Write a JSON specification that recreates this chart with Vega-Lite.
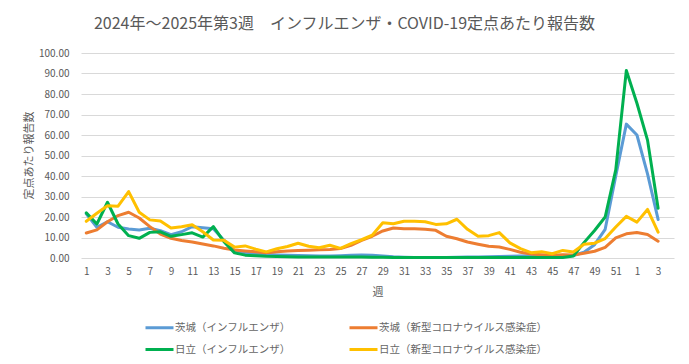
{
  "$schema": "https://vega.github.io/schema/vega-lite/v6.json",
  "width": 593,
  "height": 205,
  "autosize": {"type": "none"},
  "padding": {"left": 81, "top": 53, "right": 15, "bottom": 106},
  "background": "white",
  "title": {
    "text": "2024年～2025年第3週　インフルエンザ・COVID-19定点あたり報告数",
    "font": "Noto Sans CJK JP",
    "fontSize": 16,
    "fontWeight": "normal",
    "color": "#595959",
    "anchor": "middle",
    "dx": -33,
    "offset": 16
  },
  "config": {
    "view": {"stroke": null},
    "font": "Noto Sans CJK JP"
  },
  "data": {
    "values": [
      {"n":1,"a":21.5,"b":12.2,"c":22.0,"d":17.9},
      {"n":2,"a":15.0,"b":13.7,"c":16.6,"d":21.8},
      {"n":3,"a":17.7,"b":17.7,"c":27.2,"d":25.5},
      {"n":4,"a":15.0,"b":20.7,"c":16.6,"d":25.3},
      {"n":5,"a":14.1,"b":22.3,"c":10.9,"d":32.4},
      {"n":6,"a":13.7,"b":19.5,"c":9.6,"d":22.3},
      {"n":7,"a":14.5,"b":15.3,"c":12.5,"d":18.6},
      {"n":8,"a":13.3,"b":11.7,"c":12.8,"d":18.0},
      {"n":9,"a":11.4,"b":9.6,"c":10.6,"d":14.6},
      {"n":10,"a":12.8,"b":8.5,"c":11.4,"d":15.2},
      {"n":11,"a":15.3,"b":7.8,"c":12.3,"d":16.2},
      {"n":12,"a":14.8,"b":6.8,"c":10.2,"d":12.8},
      {"n":13,"a":14.3,"b":5.9,"c":15.3,"d":8.8},
      {"n":14,"a":8.7,"b":4.8,"c":8.0,"d":8.6},
      {"n":15,"a":3.5,"b":3.9,"c":2.5,"d":5.3},
      {"n":16,"a":2.5,"b":3.4,"c":1.4,"d":5.9},
      {"n":17,"a":2.2,"b":3.0,"c":1.1,"d":4.3},
      {"n":18,"a":1.8,"b":2.6,"c":0.8,"d":3.0},
      {"n":19,"a":1.5,"b":3.0,"c":0.7,"d":4.5},
      {"n":20,"a":1.3,"b":3.4,"c":0.6,"d":5.6},
      {"n":21,"a":1.2,"b":3.7,"c":0.5,"d":7.2},
      {"n":22,"a":1.1,"b":3.8,"c":0.5,"d":5.7},
      {"n":23,"a":1.0,"b":4.0,"c":0.5,"d":5.0},
      {"n":24,"a":1.0,"b":4.2,"c":0.5,"d":6.2},
      {"n":25,"a":1.1,"b":4.6,"c":0.5,"d":4.7},
      {"n":26,"a":1.3,"b":6.2,"c":0.5,"d":7.0},
      {"n":27,"a":1.5,"b":8.6,"c":0.5,"d":8.9},
      {"n":28,"a":1.4,"b":10.6,"c":0.4,"d":11.1},
      {"n":29,"a":1.0,"b":13.2,"c":0.4,"d":17.2},
      {"n":30,"a":0.6,"b":14.6,"c":0.3,"d":16.7},
      {"n":31,"a":0.4,"b":14.3,"c":0.2,"d":17.9},
      {"n":32,"a":0.3,"b":14.3,"c":0.2,"d":17.9},
      {"n":33,"a":0.3,"b":14.0,"c":0.2,"d":17.7},
      {"n":34,"a":0.3,"b":13.5,"c":0.2,"d":16.4},
      {"n":35,"a":0.3,"b":10.6,"c":0.2,"d":16.7},
      {"n":36,"a":0.4,"b":9.4,"c":0.2,"d":18.9},
      {"n":37,"a":0.5,"b":7.8,"c":0.2,"d":14.0},
      {"n":38,"a":0.5,"b":6.7,"c":0.2,"d":10.6},
      {"n":39,"a":0.6,"b":5.7,"c":0.2,"d":10.9},
      {"n":40,"a":0.7,"b":5.4,"c":0.2,"d":12.4},
      {"n":41,"a":0.9,"b":4.2,"c":0.2,"d":7.4},
      {"n":42,"a":1.0,"b":2.8,"c":0.2,"d":4.6},
      {"n":43,"a":1.1,"b":2.0,"c":0.2,"d":2.6},
      {"n":44,"a":1.1,"b":1.6,"c":0.2,"d":3.1},
      {"n":45,"a":1.0,"b":1.3,"c":0.2,"d":2.1},
      {"n":46,"a":0.9,"b":1.6,"c":0.2,"d":3.7},
      {"n":47,"a":1.2,"b":1.5,"c":1.0,"d":2.9},
      {"n":48,"a":2.8,"b":2.3,"c":7.5,"d":6.7},
      {"n":49,"a":6.5,"b":3.3,"c":13.4,"d":7.2},
      {"n":50,"a":14.0,"b":5.2,"c":20.0,"d":9.5},
      {"n":51,"a":40.0,"b":9.8,"c":43.0,"d":15.1},
      {"n":52,"a":65.3,"b":11.8,"c":91.5,"d":20.3},
      {"n":53,"a":60.0,"b":12.4,"c":75.5,"d":17.5},
      {"n":54,"a":41.0,"b":11.5,"c":57.5,"d":23.7},
      {"n":55,"a":18.8,"b":8.2,"c":24.3,"d":12.6}
    ]
  },
  "transform": [
    {"fold": ["a", "b", "c", "d"], "as": ["系列", "値"]}
  ],
  "mark": {"type": "line", "strokeWidth": 3, "strokeJoin": "round", "strokeCap": "round"},
  "encoding": {
    "x": {
      "field": "n",
      "type": "ordinal",
      "scale": {"domain": [1,2,3,4,5,6,7,8,9,10,11,12,13,14,15,16,17,18,19,20,21,22,23,24,25,26,27,28,29,30,31,32,33,34,35,36,37,38,39,40,41,42,43,44,45,46,47,48,49,50,51,52,53,54,55,56], "padding": 0.5},
      "axis": {
        "title": "週",
        "values": [1,3,5,7,9,11,13,15,17,19,21,23,25,27,29,31,33,35,37,39,41,43,45,47,49,51,53,55],
        "labelExpr": "datum.value > 52 ? datum.value - 52 : datum.value",
        "labelAngle": 0,
        "labelFontSize": 10,
        "labelColor": "#595959",
        "labelPadding": 8,
        "ticks": false,
        "domain": false,
        "grid": false,
        "titleFontSize": 11,
        "titleFontWeight": "normal",
        "titleColor": "#595959",
        "titleY": 34,
        "titleBaseline": "middle"
      }
    },
    "y": {
      "field": "値",
      "type": "quantitative",
      "scale": {"domain": [0, 100], "nice": false},
      "axis": {
        "title": "定点あたり報告数",
        "values": [0,10,20,30,40,50,60,70,80,90,100],
        "format": ".2f",
        "labelFontSize": 10,
        "labelColor": "#595959",
        "labelPadding": 12,
        "ticks": false,
        "domain": false,
        "gridColor": "#d9d9d9",
        "gridWidth": 1,
        "titleFontSize": 11,
        "titleFontWeight": "normal",
        "titleColor": "#595959",
        "titleX": -52,
        "titleY": 102,
        "titleAngle": -90,
        "titleAlign": "center",
        "titleBaseline": "middle"
      }
    },
    "color": {
      "field": "系列",
      "type": "nominal",
      "scale": {"domain": ["a", "b", "c", "d"], "range": ["#5B9BD5", "#ED7D31", "#00B050", "#FFC000"]},
      "legend": {
        "title": null,
        "orient": "none",
        "direction": "horizontal",
        "legendX": 63,
        "legendY": 259,
        "columns": 2,
        "columnPadding": 52,
        "rowPadding": -8,
        "symbolType": "stroke",
        "symbolSize": 784,
        "symbolStrokeWidth": 3,
        "labelOffset": 0,
        "labelLimit": 300,
        "labelFontSize": 10.5,
        "labelColor": "#666666",
        "labelExpr": "{'a':'茨城（インフルエンザ）','b':'茨城（新型コロナウイルス感染症）','c':'日立（インフルエンザ）','d':'日立（新型コロナウイルス感染症）'}[datum.value]"
      }
    }
  }
}
